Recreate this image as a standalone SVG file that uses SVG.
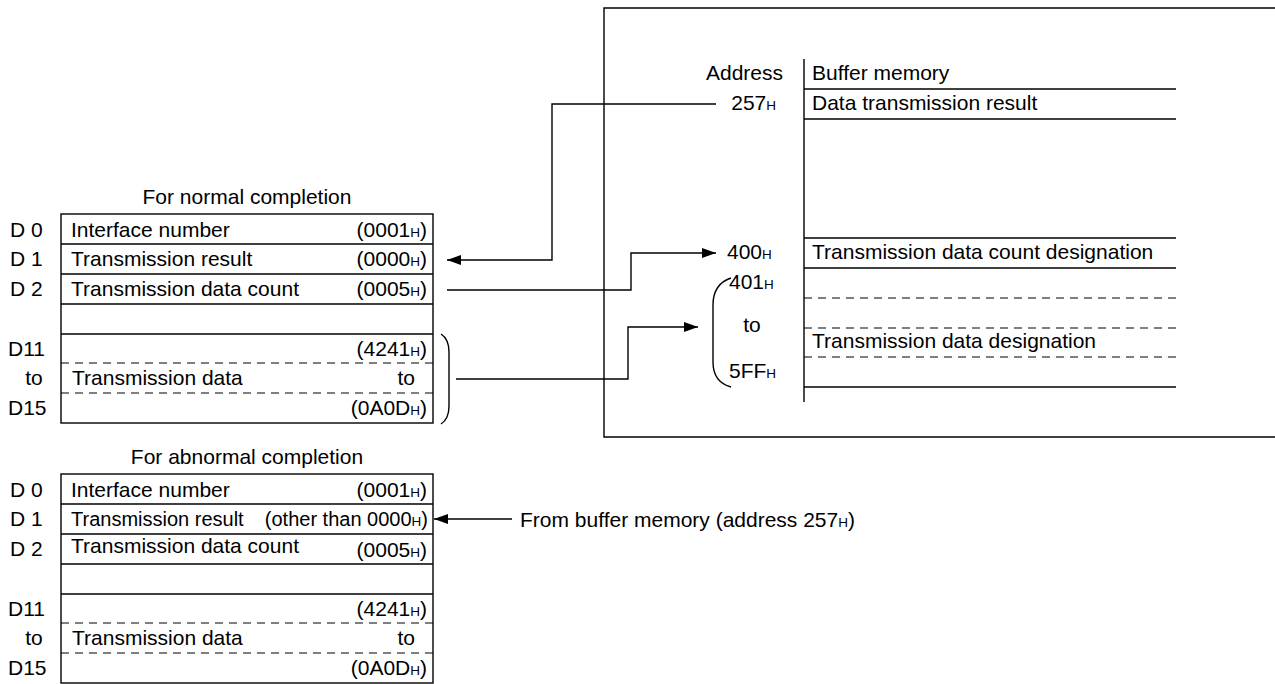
<svg xmlns="http://www.w3.org/2000/svg" width="1275" height="684" viewBox="0 0 1275 684">
<defs>
<style>
text{font-family:"Liberation Sans",Arial,sans-serif;font-size:21px;fill:#000}
.s{font-size:13.5px}
.n{font-size:20px}
.ln{stroke:#000;stroke-width:1.4;fill:none}
.dl{stroke:#000;stroke-width:1.2;fill:none;stroke-dasharray:8 6}
.box{stroke:#000;stroke-width:1.4;fill:#fff}
.e{text-anchor:end}
.m{text-anchor:middle}
</style>
<marker id="arr" markerWidth="14" markerHeight="10" refX="14" refY="5" orient="auto" markerUnits="userSpaceOnUse"><path d="M0,0 L14,5 L0,10 Z" fill="#000"/></marker>
</defs>
<rect width="1275" height="684" fill="#fff"/>

<g id="buffer-memory">
<path class="ln" d="M1276,8 H604 V437 H1276"/>
<line class="ln" x1="804" y1="59" x2="804" y2="402"/>
<line class="ln" x1="804" y1="89" x2="1176" y2="89"/>
<line class="ln" x1="804" y1="119" x2="1176" y2="119"/>
<line class="ln" x1="804" y1="238" x2="1176" y2="238"/>
<line class="ln" x1="804" y1="268" x2="1176" y2="268"/>
<line class="dl" x1="804" y1="298" x2="1176" y2="298"/>
<line class="dl" x1="804" y1="328" x2="1176" y2="328"/>
<line class="dl" x1="804" y1="357" x2="1176" y2="357"/>
<line class="ln" x1="804" y1="387" x2="1176" y2="387"/>
<text class="e" x="783" y="80">Address</text>
<text x="812" y="80">Buffer memory</text>
<text class="e" x="776" y="110">257<tspan class="s">H</tspan></text>
<text x="812" y="110">Data transmission result</text>
<text x="727" y="259">400<tspan class="s">H</tspan></text>
<text x="812" y="259">Transmission data count designation</text>
<text x="729" y="289">401<tspan class="s">H</tspan></text>
<text class="m" x="752" y="332">to</text>
<text x="729" y="378">5FF<tspan class="s">H</tspan></text>
<text x="812" y="348">Transmission data designation</text>
<path class="ln" d="M731,278 Q713,284 713,305 V362 Q713,382 731,387"/>
</g>

<g id="normal-table">
<text class="m" x="247" y="204">For normal completion</text>
<rect class="box" x="61" y="214" width="372" height="209"/>
<line class="ln" x1="61" y1="244" x2="433" y2="244"/>
<line class="ln" x1="61" y1="274" x2="433" y2="274"/>
<line class="ln" x1="61" y1="304" x2="433" y2="304"/>
<line class="ln" x1="61" y1="334" x2="433" y2="334"/>
<line class="dl" x1="61" y1="363" x2="433" y2="363"/>
<line class="dl" x1="61" y1="393" x2="433" y2="393"/>
<text x="10" y="237">D 0</text>
<text x="10" y="266">D 1</text>
<text x="10" y="296">D 2</text>
<text x="8" y="356">D11</text>
<text class="m" x="34" y="385">to</text>
<text x="8" y="415">D15</text>
<text x="71" y="237">Interface number</text>
<text class="e" x="427" y="237">(0001<tspan class="s">H</tspan>)</text>
<text x="71" y="266">Transmission result</text>
<text class="e" x="427" y="266">(0000<tspan class="s">H</tspan>)</text>
<text x="71" y="296">Transmission data count</text>
<text class="e" x="427" y="296">(0005<tspan class="s">H</tspan>)</text>
<text class="e" x="427" y="356">(4241<tspan class="s">H</tspan>)</text>
<text x="72" y="385">Transmission data</text>
<text class="e" x="415" y="385">to</text>
<text class="e" x="427" y="415">(0A0D<tspan class="s">H</tspan>)</text>
<path class="ln" d="M441,334 Q449,339 449,352 V406 Q449,419 441,424"/>
</g>

<g id="abnormal-table">
<text class="m" x="247" y="464">For abnormal completion</text>
<rect class="box" x="61" y="474" width="372" height="209"/>
<line class="ln" x1="61" y1="504" x2="433" y2="504"/>
<line class="ln" x1="61" y1="534" x2="433" y2="534"/>
<line class="ln" x1="61" y1="564" x2="433" y2="564"/>
<line class="ln" x1="61" y1="594" x2="433" y2="594"/>
<line class="dl" x1="61" y1="623" x2="433" y2="623"/>
<line class="dl" x1="61" y1="653" x2="433" y2="653"/>
<text x="10" y="497">D 0</text>
<text x="10" y="526">D 1</text>
<text x="10" y="556">D 2</text>
<text x="8" y="616">D11</text>
<text class="m" x="34" y="645">to</text>
<text x="8" y="675">D15</text>
<text x="71" y="497">Interface number</text>
<text class="e" x="427" y="497">(0001<tspan class="s">H</tspan>)</text>
<text class="n" x="71" y="526">Transmission result</text>
<text class="e n" x="428" y="526">(other than 0000<tspan class="s">H</tspan>)</text>
<text x="71" y="553">Transmission data count</text>
<text class="e" x="427" y="557">(0005<tspan class="s">H</tspan>)</text>
<text class="e" x="427" y="616">(4241<tspan class="s">H</tspan>)</text>
<text x="72" y="645">Transmission data</text>
<text class="e" x="415" y="645">to</text>
<text class="e" x="427" y="675">(0A0D<tspan class="s">H</tspan>)</text>
</g>

<g id="external-label">
<text x="520" y="527">From buffer memory (address 257<tspan class="s">H</tspan>)</text>
</g>

<g id="connectors">
<path class="ln" d="M716,104 H552 V260 H447" marker-end="url(#arr)"/>
<path class="ln" d="M447,290 H631 V253 H716" marker-end="url(#arr)"/>
<path class="ln" d="M456,379 H628 V327 H698" marker-end="url(#arr)"/>
<path class="ln" d="M512,519 H434" marker-end="url(#arr)"/>
</g>
</svg>
